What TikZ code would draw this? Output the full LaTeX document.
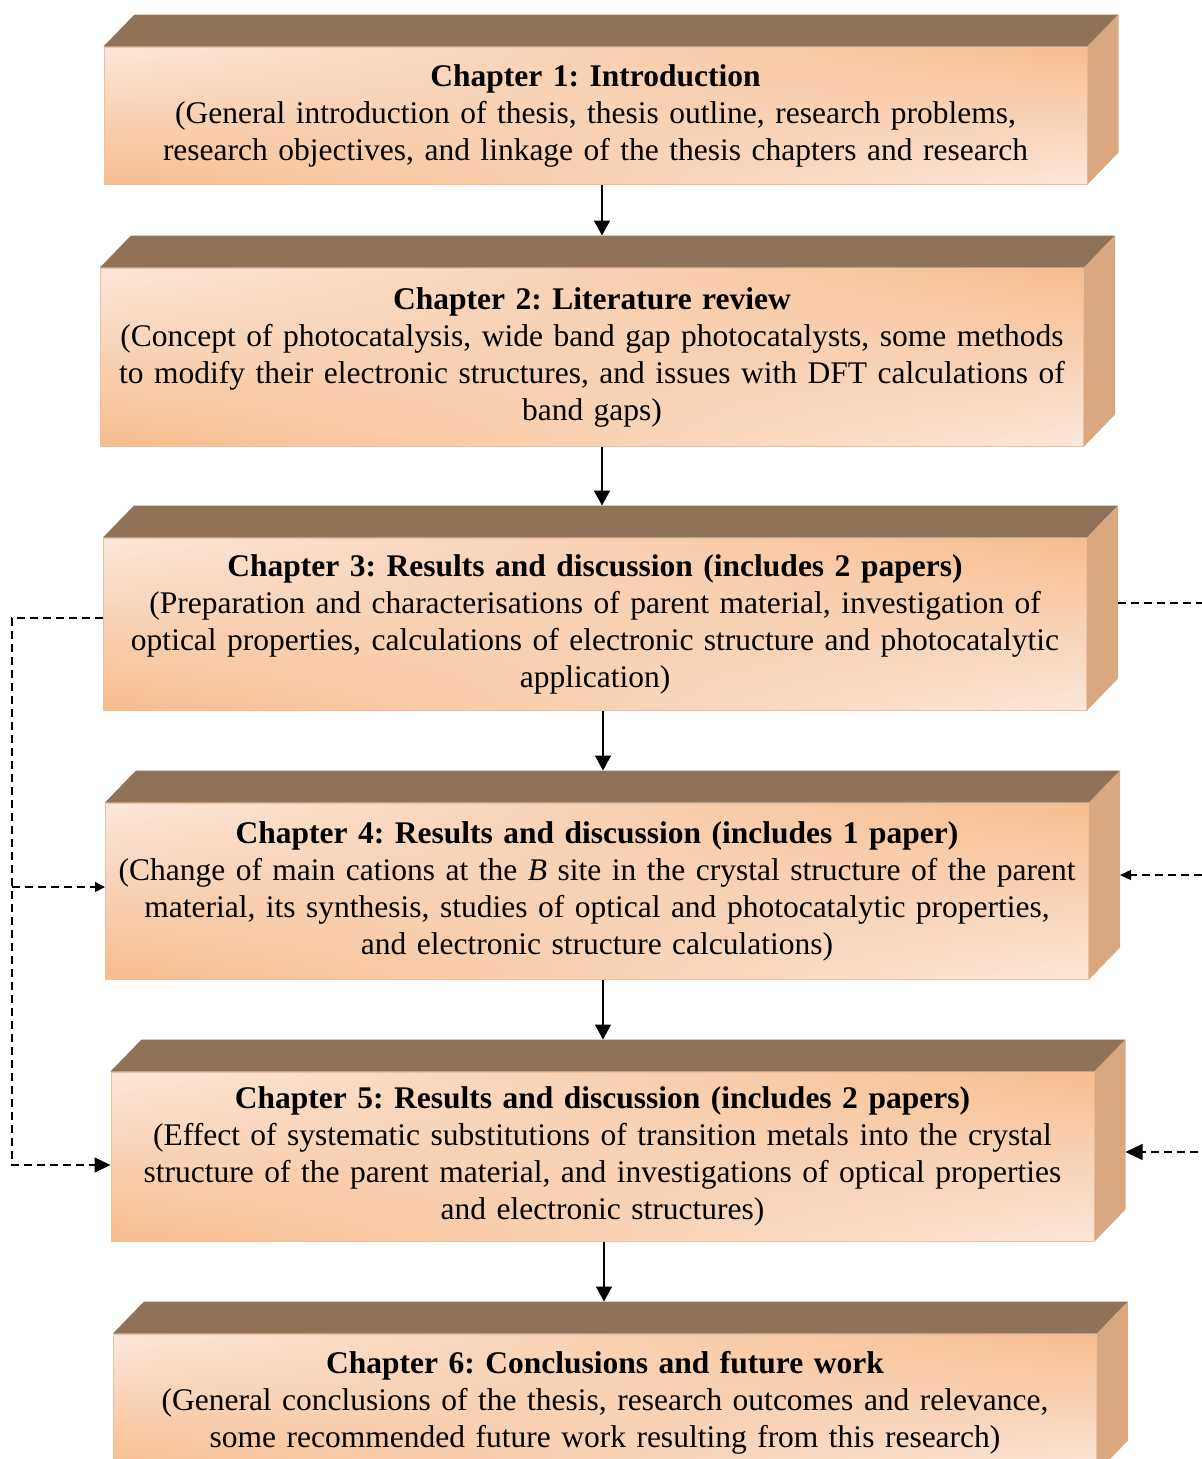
\documentclass[tikz,border=0pt]{standalone}
\usepackage{fontspec}
\setmainfont{Liberation Serif}
\usetikzlibrary{arrows.meta,shadings}
\definecolor{topc}{RGB}{145,114,86}
\definecolor{sidec}{RGB}{218,168,128}
\definecolor{lightc}{RGB}{251,231,218}
\definecolor{orangec}{RGB}{247,188,140}
\definecolor{edgec}{RGB}{236,192,160}
% top and right face of a chapter block
\newcommand{\cubefaces}[1]{%
  \fill[topc] (#1.north west) -- ++(31,-32) -- ([shift={(31,-32)}]#1.north east) -- (#1.north east) -- cycle;
  \fill[sidec] (#1.north east) -- ++(31,-32) -- ([shift={(31,-32)}]#1.south east) -- (#1.south east) -- cycle;
  \coordinate (#1top) at ([yshift=32pt]#1.north);
}

\begin{document}
\frenchspacing
\begin{tikzpicture}[x=1pt,y=-1pt,
  chapbox/.style={draw=edgec, line width=1pt, shade, upper left=lightc, upper right=orangec,
    lower left=orangec, lower right=lightc, minimum width=983pt, text width=983pt,
    align=center, inner sep=0pt, font=\fontsize{31.5}{37}\selectfont},
  flow/.style={-{Triangle[width=16pt,length=15pt]}, line width=1.6pt},
  link/.style={dash pattern=on 8pt off 5pt, line width=1.5pt}]
  \useasboundingbox (0,0) rectangle (1202,1459);
  \clip (0,0) rectangle (1202,1459);

  \node[chapbox, minimum height=137pt] (b1) at (595.5,115.5)
    {\textbf{Chapter 1: Introduction}\\
     (General introduction of thesis, thesis outline, research problems,\\
     research objectives, and linkage of the thesis chapters and research};
  \node[chapbox, minimum height=178pt] (b2) at (592,357)
    {\textbf{Chapter 2: Literature review}\\
     (Concept of photocatalysis, wide band gap photocatalysts, some methods\\
     to modify their electronic structures, and issues with DFT calculations of\\
     band gaps)};
  \node[chapbox, minimum height=172pt] (b3) at (595,624)
    {\textbf{Chapter 3: Results and discussion (includes 2 papers)}\\
     (Preparation and characterisations of parent material, investigation of\\
     optical properties, calculations of electronic structure and photocatalytic\\
     application)};
  \node[chapbox, minimum height=176pt] (b4) at (597,891)
    {\textbf{Chapter 4: Results and discussion (includes 1 paper)}\\
     (Change of main cations at the \textit{B} site in the crystal structure of the parent\\
     material, its synthesis, studies of optical and photocatalytic properties,\\
     and electronic structure calculations)};
  \node[chapbox, minimum height=169pt] (b5) at (602.5,1156.5)
    {\textbf{Chapter 5: Results and discussion (includes 2 papers)}\\
     (Effect of systematic substitutions of transition metals into the crystal\\
     structure of the parent material, and investigations of optical properties\\
     and electronic structures)};
  \node[chapbox, minimum height=138pt] (b6) at (605,1403)
    {\textbf{Chapter 6: Conclusions and future work}\\
     (General conclusions of the thesis, research outcomes and relevance,\\
     some recommended future work resulting from this research)};

  \cubefaces{b1} \cubefaces{b2} \cubefaces{b3}
  \cubefaces{b4} \cubefaces{b5} \cubefaces{b6}

  % main flow
  \draw[flow] ([xshift=6.5pt]b1.south) coordinate (s1) -- (s1 |- b2top);
  \draw[flow] ([xshift=10pt]b2.south) coordinate (s2) -- (s2 |- b3top);
  \draw[flow] ([xshift=8pt]b3.south) coordinate (s3) -- (s3 |- b4top);
  \draw[flow] ([xshift=6pt]b4.south) coordinate (s4) -- (s4 |- b5top);
  \draw[flow] ([xshift=1.5pt]b5.south) coordinate (s5) -- (s5 |- b6top);

  % dashed links on the left
  \coordinate (lft) at (12,0);
  \coordinate (b4in) at ([yshift=4pt]b4.west);
  \coordinate (b5in) at ([yshift=-8.5pt]b5.west);
  \draw[link, -{Triangle[width=15pt,length=16pt]}] ([yshift=6pt]b3.west) -| (lft |- b5in) -- (b5in);
  \draw[link, -{Triangle[width=10pt,length=10pt]}] (lft |- b4in) -- (b4in);

  % dashed links on the right
  \coordinate (rgt) at (1215,0);
  \coordinate (b3out) at ([xshift=31pt,yshift=21pt]b3.east);
  \coordinate (b4in2) at ([xshift=31pt,yshift=16pt]b4.east);
  \coordinate (b5in2) at ([xshift=31pt,yshift=4.5pt]b5.east);
  \draw[link, -{Triangle[width=16pt,length=17pt]}] (b3out) -| (rgt |- b5in2) -- (b5in2);
  \draw[link, -{Triangle[width=10pt,length=11pt]}] (rgt |- b4in2) -- (b4in2);
\end{tikzpicture}
\end{document}
